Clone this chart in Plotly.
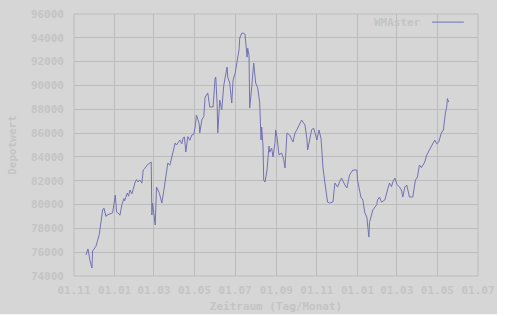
import pandas as pd
import plotly.graph_objects as go

# days since 2005-11-01
day_offsets = [18, 21, 24, 27, 28, 33, 38, 40, 43, 45, 48, 49, 54, 58, 62, 64, 68, 69, 72, 75,
               76, 80, 82, 84, 87, 90, 92, 94, 96, 99, 102, 104, 106, 110, 112, 116, 117, 118, 122, 124,
               128, 129, 132, 135, 138, 141, 144, 147, 150, 152, 154, 159, 162, 164, 166, 168, 171, 174, 177, 180,
               182, 184, 188, 189, 192, 195, 197, 201, 204, 209, 212, 213, 215, 216, 219, 222, 225, 228, 230, 231,
               234, 237, 239, 242, 245, 248, 249, 252, 254, 257, 260, 261, 263, 264, 267, 270, 273, 276, 279, 281,
               282, 284, 285, 287, 290, 293, 294, 297, 299, 302, 303, 305, 308, 312, 315, 317, 320, 324, 329, 332,
               335, 339, 342, 347, 350, 351, 354, 357, 360, 365, 368, 371, 372, 374, 377, 380, 381, 384, 389, 392,
               396, 399, 402, 407, 410, 414, 419, 425, 426, 431, 434, 437, 440, 443, 444, 449, 449, 452, 455, 456,
               459, 462, 467, 471, 474, 477, 479, 482, 485, 489, 492, 494, 497, 500, 504, 507, 509, 513, 516, 519,
               522, 527, 530, 534, 539, 542, 545, 548, 552, 555, 558, 560, 561, 563]
depot_values = [75760, 76270, 75300, 74670, 76100, 76500, 77500, 78500, 79540, 79700, 79000, 79100, 79200, 79300, 80800, 79370, 79200, 79100, 80000, 80500,
                80300, 80970, 80700, 81220, 80900, 81600, 81900, 82100, 81900, 82060, 81800, 82900, 83000, 83320, 83400, 83570, 79120, 80130, 78280, 81470,
                81000, 80800, 80130, 81200, 82310, 83490, 83300, 84000, 84500, 85170, 85000, 85420, 85100, 85600, 85670, 84410, 85700, 85400, 85840, 85900,
                86510, 87520, 86800, 86010, 87100, 87400, 89020, 89370, 88180, 88200, 90620, 90700, 88500, 86010, 88770, 87940, 90000, 90900, 91540, 90700,
                90200, 88520, 90450, 91000, 91880, 93000, 93980, 94390, 94400, 94300, 92380, 93130, 92500, 88100, 89870, 91880, 90200, 89800, 88530, 85420,
                86510, 84910, 82060, 81890, 82900, 84910, 84400, 84740, 83990, 85200, 86260, 85670, 84160, 84330, 83800, 83070, 86010, 85840, 85250, 86000,
                86300, 86800, 87100, 86680, 85500, 84580, 85600, 86260, 86430, 85420, 86260, 85600, 84910, 83150, 81810, 80800, 80200, 80130, 80210, 81810,
                81470, 81900, 82230, 81640, 81390, 82480, 82900, 82900, 82060, 80630, 80380, 79290, 78950, 77270, 78500, 79540, 79540, 79790, 80000, 80380,
                80630, 80200, 80380, 81220, 81810, 81500, 81890, 82230, 81700, 81470, 81220, 80630, 81470, 81640, 80630, 80630, 80630, 82060, 82310, 83320,
                83100, 83570, 84160, 84580, 85170, 85420, 85100, 85250, 86010, 86260, 87690, 88180, 88900, 88600, 87500]
series_name = "WMAster"
y_ticks = [74000, 76000, 78000, 80000, 82000, 84000, 86000, 88000, 90000, 92000, 94000, 96000]
x_tick_dates = ["2005-11-01", "2006-01-01", "2006-03-01", "2006-05-01", "2006-07-01", "2006-09-01",
                "2006-11-01", "2007-01-01", "2007-03-01", "2007-05-01", "2007-07-01"]
x_tick_labels = ["01.11", "01.01", "01.03", "01.05", "01.07", "01.09", "01.11", "01.01", "01.03", "01.05", "01.07"]

n = min(len(day_offsets), len(depot_values))
dates = pd.Timestamp("2005-11-01") + pd.to_timedelta(day_offsets[:n], unit="D")

BG = "#d6d6d6"
TXT = "#c4c4c4"
GRID = "#bcbcbc"
LINE = "#7272b4"
FONT = dict(family="DejaVu Sans Mono", size=11, color=TXT, weight="bold")

fig = go.Figure()
fig.add_trace(go.Scatter(x=dates, y=depot_values[:n], mode="lines", name=series_name,
                         line=dict(color=LINE, width=1), showlegend=False))

fig.update_layout(
    width=508, height=316,
    margin=dict(l=74, r=30, t=14, b=40, autoexpand=False),
    paper_bgcolor=BG, plot_bgcolor=BG,
    font=FONT,
    showlegend=False,
    xaxis=dict(
        range=["2005-11-01", "2007-07-01"], tickvals=x_tick_dates, ticktext=x_tick_labels,
        showgrid=True, gridcolor=GRID, gridwidth=1, zeroline=False, automargin=False,
        showline=False, ticks="", ticklabelstandoff=6,
        title=dict(text="Zeitraum (Tag/Monat)", font=FONT, standoff=6),
    ),
    yaxis=dict(
        range=[74000, 96000], tickvals=y_ticks, tickformat="d",
        showgrid=True, gridcolor=GRID, gridwidth=1, zeroline=False, automargin=False,
        showline=False, ticks="", ticklabelstandoff=9,
        title=dict(text="Depotwert", font=FONT, standoff=12),
    ),
    annotations=[
        dict(text=series_name, xref="paper", yref="paper", x=0.864, y=0.969,
             xanchor="right", yanchor="middle", showarrow=False, font=FONT),
    ],
    shapes=[
        dict(type="rect", xref="paper", yref="paper", x0=0, x1=1, y0=0, y1=1,
             line=dict(color=GRID, width=1), fillcolor="rgba(0,0,0,0)", layer="below"),
        dict(type="line", xref="paper", yref="paper", x0=0.886, x1=0.965, y0=0.969, y1=0.969,
             line=dict(color=LINE, width=1)),
        dict(type="rect", xref="paper", yref="paper", x0=1.047, x1=1.1, y0=-0.3, y1=1.2,
             line=dict(width=0), fillcolor="white", layer="above"),
        dict(type="rect", xref="paper", yref="paper", x0=-0.3, x1=1.1, y0=-0.17, y1=-0.146,
             line=dict(width=0), fillcolor="white", layer="above"),
    ],
)

fig.write_html("out.html")
